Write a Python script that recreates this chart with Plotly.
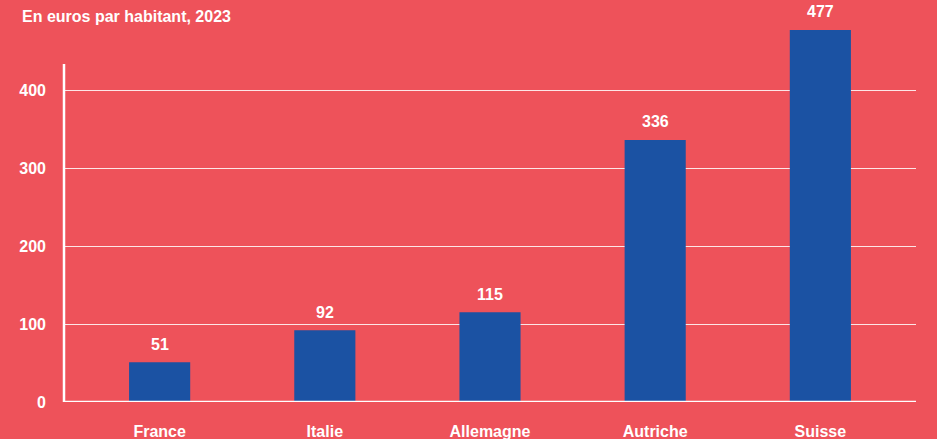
import plotly.graph_objects as go

# Dépenses par habitant (euros, 2023)
pays = ["France", "Italie", "Allemagne", "Autriche", "Suisse"]
valeurs = [51, 92, 115, 336, 477]
y_ticks = [0, 100, 200, 300, 400]

FOND = "#EE525A"
BLEU = "#1B52A3"
BLANC = "#FFFFFF"
POLICE = "Liberation Sans, Arial, sans-serif"

fig = go.Figure(
    go.Bar(
        x=pays,
        y=valeurs,
        marker=dict(color=BLEU, line=dict(width=0)),
        width=0.37,
        hoverinfo="skip",
    )
)

# étiquettes de valeur au-dessus des barres
etiquettes = [
    dict(
        x=p, y=v, xref="x", yref="y",
        text=str(v),
        showarrow=False,
        xanchor="center", yanchor="middle",
        yshift=18,
        font=dict(family=POLICE, size=16, color=BLANC, weight="bold"),
    )
    for p, v in zip(pays, valeurs)
]

sous_titre = dict(
    text="En euros par habitant, 2023",
    xref="paper", yref="paper",
    x=(20 - 64) / 852, y=1.0,
    xanchor="left", yanchor="middle",
    yshift=-6,
    showarrow=False,
    font=dict(family=POLICE, size=16, color=BLANC, weight="bold"),
)

fig.update_layout(
    width=937,
    height=439,
    margin=dict(l=64, r=21, t=10, b=37, autoexpand=False),
    paper_bgcolor=FOND,
    plot_bgcolor=FOND,
    showlegend=False,
    xaxis=dict(
        range=[-0.579, 4.579],
        automargin=False,
        showgrid=False,
        showline=False,
        zeroline=False,
        ticks="",
        ticklabelstandoff=18,
        tickfont=dict(family=POLICE, size=16, color=BLANC, weight="bold"),
        fixedrange=True,
    ),
    yaxis=dict(
        range=[0, 502.6],
        automargin=False,
        tickvals=y_ticks,
        ticktext=[str(t) for t in y_ticks],
        showgrid=True,
        gridcolor="rgba(255,255,255,0.85)",
        gridwidth=1,
        zeroline=False,
        showline=False,
        ticks="",
        ticklabelstandoff=17,
        tickfont=dict(family=POLICE, size=16, color=BLANC, weight="bold"),
        fixedrange=True,
    ),
    annotations=etiquettes + [sous_titre],
    shapes=[
        # axe vertical
        dict(type="line", xref="paper", yref="paper",
             x0=0, x1=0, y0=0, y1=(402 - 64) / 392,
             line=dict(color=BLANC, width=2.5)),
        # ligne de base
        dict(type="line", xref="paper", yref="y",
             x0=0, x1=1, y0=0, y1=0,
             line=dict(color=BLANC, width=2.5)),
    ],
)

fig.write_html("out.html")
